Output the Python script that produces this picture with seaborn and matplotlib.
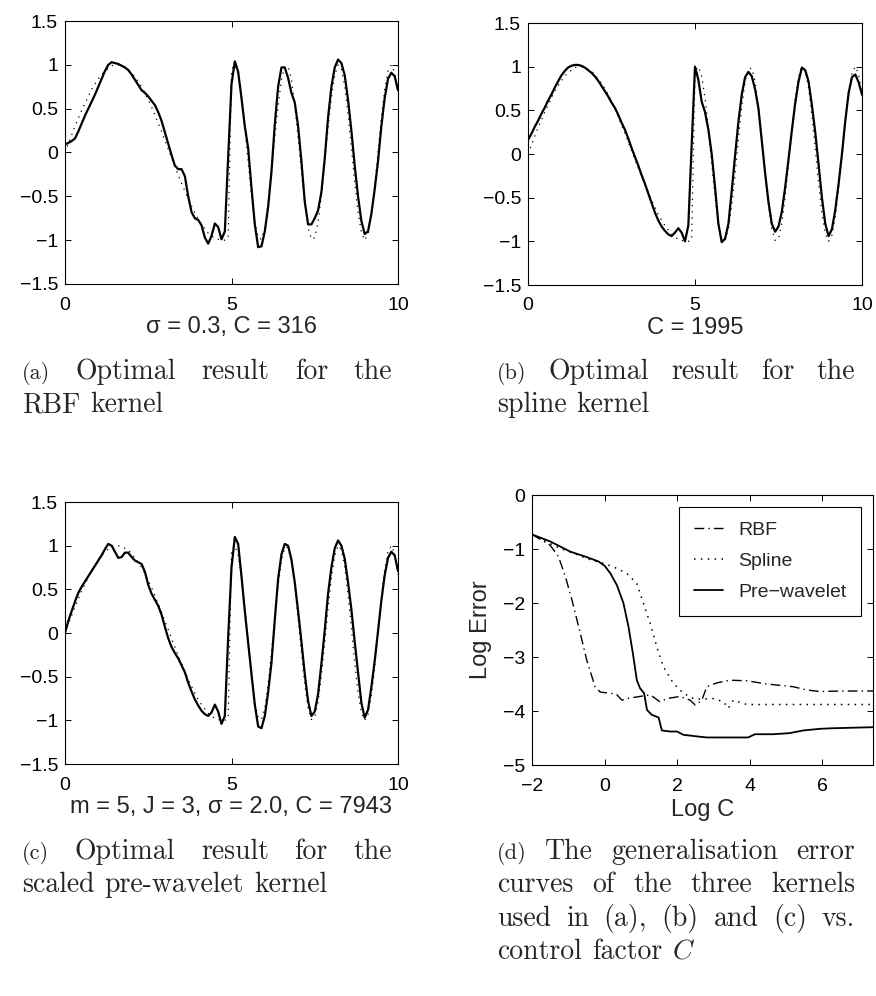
import numpy as np
import pandas as pd
import seaborn as sns
import matplotlib.pyplot as plt

# ---- data for panels (a)-(c): signal sampled every 0.1 on [0, 10]
x_sig = np.round(np.arange(0, 10.05, 0.1), 1)

true_sig = [0.00, 0.10, 0.20, 0.30, 0.39, 0.48, 0.56, 0.64, 0.72, 0.78,
            0.84, 0.89, 0.93, 0.96, 0.99, 1.00, 1.00, 0.99, 0.97, 0.95,
            0.91, 0.86, 0.81, 0.75, 0.68, 0.60, 0.52, 0.43, 0.33, 0.24,
            0.14, 0.04, -0.06, -0.16, -0.26, -0.35, -0.44, -0.53, -0.61, -0.69,
            -0.76, -0.82, -0.87, -0.92, -0.95, -0.98, -0.99, -1.00, -1.00, -0.98,
            0.95, 1.00, 0.89, 0.64, 0.29, -0.11, -0.49, -0.79, -0.97, -0.99,
            -0.86, -0.59, -0.23, 0.17, 0.54, 0.83, 0.98, 0.98, 0.83, 0.54,
            0.17, -0.22, -0.59, -0.86, -0.99, -0.97, -0.79, -0.49, -0.11, 0.28,
            0.63, 0.88, 1.00, 0.95, 0.76, 0.44, 0.06, -0.34, -0.68, -0.91,
            -1.00, -0.93, -0.72, -0.39, 0.00, 0.39, 0.72, 0.93, 1.00, 0.91,
            0.67]

rbf_fit = [0.09, 0.11, 0.13, 0.16, 0.24, 0.33, 0.42, 0.50, 0.58, 0.66,
           0.75, 0.84, 0.93, 1.00, 1.03, 1.02, 1.01, 0.99, 0.97, 0.94,
           0.89, 0.83, 0.77, 0.71, 0.68, 0.64, 0.59, 0.54, 0.46, 0.36,
           0.23, 0.10, -0.03, -0.15, -0.19, -0.19, -0.27, -0.50, -0.68, -0.75,
           -0.77, -0.83, -0.97, -1.04, -0.95, -0.81, -0.85, -0.99, -0.90, -0.05,
           0.78, 1.04, 0.92, 0.62, 0.30, 0.05, -0.40, -0.82, -1.08, -1.07,
           -0.90, -0.62, -0.22, 0.32, 0.75, 0.97, 0.97, 0.85, 0.68, 0.57,
           0.30, -0.10, -0.56, -0.82, -0.82, -0.75, -0.66, -0.45, -0.07, 0.40,
           0.75, 0.97, 1.06, 1.02, 0.88, 0.60, 0.25, -0.15, -0.50, -0.78,
           -0.93, -0.90, -0.70, -0.42, -0.10, 0.30, 0.62, 0.84, 0.91, 0.87,
           0.71]

spline_fit = [0.16, 0.23, 0.31, 0.38, 0.46, 0.53, 0.61, 0.68, 0.76, 0.83,
              0.90, 0.95, 0.99, 1.01, 1.02, 1.02, 1.01, 0.99, 0.96, 0.93,
              0.89, 0.84, 0.78, 0.72, 0.66, 0.59, 0.53, 0.45, 0.36, 0.28,
              0.18, 0.07, -0.03, -0.13, -0.24, -0.34, -0.45, -0.56, -0.67, -0.76,
              -0.83, -0.88, -0.92, -0.94, -0.90, -0.85, -0.90, -1.00, -0.82, 0.10,
              1.00, 0.85, 0.60, 0.48, 0.28, 0.00, -0.38, -0.80, -1.01, -0.97,
              -0.80, -0.42, -0.02, 0.37, 0.68, 0.88, 0.94, 0.89, 0.74, 0.52,
              0.15, -0.22, -0.55, -0.80, -0.89, -0.83, -0.66, -0.38, -0.06, 0.27,
              0.58, 0.83, 0.99, 0.96, 0.83, 0.56, 0.25, -0.12, -0.50, -0.80,
              -0.94, -0.86, -0.64, -0.34, 0.00, 0.38, 0.70, 0.88, 0.91, 0.82,
              0.68]

prewave_fit = [0.00, 0.14, 0.25, 0.36, 0.46, 0.53, 0.59, 0.65, 0.71, 0.77,
               0.83, 0.89, 0.96, 1.02, 1.00, 0.93, 0.86, 0.87, 0.92, 0.92,
               0.87, 0.83, 0.81, 0.79, 0.70, 0.55, 0.45, 0.38, 0.31, 0.21,
               0.07, -0.06, -0.16, -0.23, -0.29, -0.37, -0.45, -0.57, -0.67, -0.76,
               -0.83, -0.89, -0.93, -0.95, -0.91, -0.82, -0.90, -1.04, -0.95, -0.05,
               0.75, 1.10, 1.02, 0.65, 0.25, -0.11, -0.47, -0.82, -1.07, -1.09,
               -0.95, -0.68, -0.34, 0.15, 0.62, 0.90, 1.02, 1.00, 0.84, 0.58,
               0.25, -0.10, -0.47, -0.78, -0.95, -0.90, -0.70, -0.35, 0.03, 0.45,
               0.75, 0.97, 1.06, 1.00, 0.85, 0.58, 0.27, -0.10, -0.45, -0.80,
               -0.97, -0.88, -0.62, -0.32, 0.02, 0.37, 0.66, 0.86, 0.93, 0.89,
               0.71]

sig_xticks = [0, 5, 10]
sig_yticks = [1.5, 1, 0.5, 0, -0.5, -1, -1.5]
sig_yticklabels = ["1.5", "1", "0.5", "0", "\u22120.5", "\u22121", "\u22121.5"]
sig_xlabels = ["\u03c3 = 0.3, C = 316", "C = 1995",
               "m = 5, J = 3, \u03c3 = 2.0, C = 7943"]

# ---- data for panel (d): log error vs log C
logc_rbf = [-2.0, -1.5, -1.27, -1.08, -0.9, -0.67, -0.49, -0.26, -0.12, 0.16,
            0.34, 0.48, 0.61, 0.98, 1.26, 1.53, 1.72, 2.08, 2.36, 2.5,
            2.68, 2.82, 3.09, 3.46, 3.92, 4.47, 5.2, 5.57, 5.94, 6.49, 7.4]
err_rbf = [-0.73, -0.93, -1.14, -1.51, -1.94, -2.56, -3.06, -3.55, -3.65, -3.67,
           -3.70, -3.80, -3.77, -3.73, -3.70, -3.83, -3.77, -3.73, -3.80, -3.89,
           -3.80, -3.55, -3.48, -3.43, -3.44, -3.50, -3.55, -3.61, -3.64, -3.63, -3.63]

logc_spline = [-2.0, -1.5, -1.22, -0.85, -0.39, 0.0, 0.34, 0.61, 0.89, 1.07,
               1.26, 1.44, 1.62, 1.9, 2.17, 2.45, 2.63, 3.0, 3.28, 3.41,
               3.55, 3.92, 7.4]
err_spline = [-0.73, -0.90, -0.99, -1.08, -1.20, -1.27, -1.36, -1.45, -1.64, -2.0,
              -2.38, -2.81, -3.18, -3.49, -3.67, -3.77, -3.78, -3.77, -3.83, -3.95,
              -3.80, -3.88, -3.88]

logc_pw = [-2.0, -1.5, -0.94, -0.49, -0.17, 0.0, 0.16, 0.34, 0.52, 0.66,
           0.78, 0.89, 0.98, 1.09, 1.17, 1.30, 1.49, 1.58, 1.81, 2.0,
           2.17, 2.54, 2.82, 3.28, 3.73, 3.96, 4.05, 4.15, 4.65, 5.1,
           5.48, 5.94, 6.26, 7.4]
err_pw = [-0.73, -0.86, -1.05, -1.15, -1.23, -1.31, -1.45, -1.67, -2.0, -2.44,
          -2.93, -3.43, -3.58, -3.67, -3.98, -4.07, -4.12, -4.36, -4.38, -4.38,
          -4.44, -4.47, -4.49, -4.49, -4.49, -4.49, -4.46, -4.43, -4.43, -4.41,
          -4.36, -4.33, -4.32, -4.30]

err_xticks = [-2, 0, 2, 4, 6]
err_xticklabels = ["\u22122", "0", "2", "4", "6"]
err_yticks = [0, -1, -2, -3, -4, -5]
err_yticklabels = ["0", "\u22121", "\u22122", "\u22123", "\u22124", "\u22125"]
legend_labels = ["RBF", "Spline", "Pre\u2212wavelet"]

# captions: (tag, lines of words)
captions = [
    ("(a)", [["Optimal", "result", "for", "the"], ["RBF", "kernel"]]),
    ("(b)", [["Optimal", "result", "for", "the"], ["spline", "kernel"]]),
    ("(c)", [["Optimal", "result", "for", "the"], ["scaled", "pre-wavelet", "kernel"]]),
    ("(d)", [["The", "generalisation", "error"],
             ["curves", "of", "the", "three", "kernels"],
             ["used", "in", "(a),", "(b)", "and", "(c)", "vs."],
             ["control", "factor", "$C$"]]),
]

# ---- style
sns.set_style("ticks")
plt.rcParams["font.family"] = ["Liberation Sans", "DejaVu Sans"]
plt.rcParams["mathtext.fontset"] = "cm"
plt.rcParams["axes.linewidth"] = 0.8

W, H = 876, 996
fig = plt.figure(figsize=(W / 100, H / 100), dpi=100)


def px_axes(l, t, r, b):
    return fig.add_axes([l / W, 1 - b / H, (r - l) / W, (b - t) / H])


def style_axes(ax):
    ax.tick_params(direction="in", length=4, width=0.7, top=True, right=True,
                   labelsize=14, pad=5, colors="k")
    ax.tick_params(axis="x", pad=9)
    for s in ax.spines.values():
        s.set_color("k")
        s.set_linewidth(0.8)


sig_boxes = [(65, 21, 398, 284), (528, 23, 862, 285), (65, 502, 398, 764)]
fits = [rbf_fit, spline_fit, prewave_fit]

for box, fit, xl in zip(sig_boxes, fits, sig_xlabels):
    ax = px_axes(*box)
    sns.lineplot(x=x_sig, y=true_sig, ax=ax, color="k", lw=0.9,
                 linestyle=(0, (1, 4)), estimator=None, sort=False)
    sns.lineplot(x=x_sig, y=fit, ax=ax, color="k", lw=1.6,
                 estimator=None, sort=False)
    ax.set_xlim(0, 10)
    ax.set_ylim(-1.5, 1.5)
    ax.set_xticks(sig_xticks)
    ax.set_xticklabels([str(v) for v in sig_xticks])
    ax.set_yticks(sig_yticks)
    ax.set_yticklabels(sig_yticklabels)
    ax.set_xlabel(xl, fontsize=17, labelpad=2)
    style_axes(ax)

# panel (d)
ax = px_axes(532, 495, 873, 765)
sns.lineplot(x=logc_rbf, y=err_rbf, ax=ax, color="k", lw=1.0,
             linestyle=(0, (7, 3, 1, 3)), estimator=None, sort=False,
             label=legend_labels[0])
sns.lineplot(x=logc_spline, y=err_spline, ax=ax, color="k", lw=1.1,
             linestyle=(0, (1, 3.5)), estimator=None, sort=False,
             label=legend_labels[1])
sns.lineplot(x=logc_pw, y=err_pw, ax=ax, color="k", lw=1.3,
             estimator=None, sort=False, label=legend_labels[2])
ax.set_xlim(-2, 7.4)
ax.set_ylim(-5, 0)
ax.set_xticks(err_xticks)
ax.set_xticklabels(err_xticklabels)
ax.set_yticks(err_yticks)
ax.set_yticklabels(err_yticklabels)
ax.set_xlabel("Log C", fontsize=17, labelpad=3)
ax.set_ylabel("Log Error", fontsize=17, labelpad=8)
style_axes(ax)
leg = ax.legend(loc="upper right", fontsize=14, frameon=True, fancybox=False,
                edgecolor="k", framealpha=1, handlelength=1.5,
                handletextpad=0.8, borderpad=0.75, labelspacing=0.7,
                borderaxespad=0.6)
leg.get_frame().set_linewidth(0.8)

# ---- captions, justified like the LaTeX subcaptions
renderer = fig.canvas.get_renderer()
cap_pos = [(22, 392, 379), (497, 855, 379), (22, 392, 859), (497, 855, 859)]
line_step = 33.3
for (tag, lines), (x0, x1, yb) in zip(captions, cap_pos):
    for i, words in enumerate(lines):
        items = []
        if i == 0:
            items.append((tag, 16))
        items += [(w, 20) for w in words]
        texts = []
        widths = []
        y = 1 - (yb + i * line_step) / H
        for w, size in items:
            t = fig.text(0, y, w, fontsize=size, family="cmr10", va="baseline")
            texts.append(t)
            widths.append(t.get_window_extent(renderer).width)
        if i < len(lines) - 1:
            gap = (x1 - x0 - sum(widths)) / (len(items) - 1)
        else:
            gap = 10
        x = x0
        for t, wd in zip(texts, widths):
            t.set_x(x / W)
            x += wd + gap

fig.savefig("out.png", dpi=100)
